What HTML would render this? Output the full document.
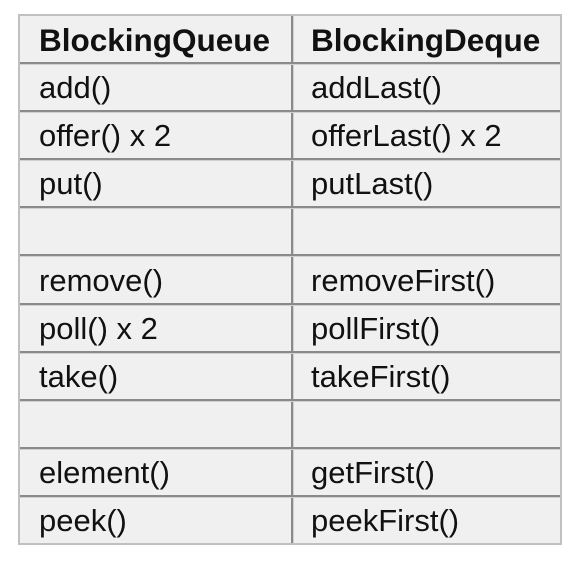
<!DOCTYPE html>
<html><head><style>
body{margin:0;background:#fff;width:580px;height:566px;position:relative;font-family:"Liberation Sans",Arial,sans-serif;}
.t{position:absolute;left:18px;top:14px;width:544px;height:531px;background:#f0f0f0;border:2px solid #c0c0c0;box-sizing:border-box;}
.h{position:absolute;left:20px;width:540px;height:2px;background:#8a8a8a;border-bottom:1px solid #d0d0d0}
.v{position:absolute;left:291px;top:16px;width:2px;height:527px;background:#8a8a8a;border-right:1px solid #d0d0d0}
.c{position:absolute;font-size:31px;color:#111;line-height:34px;white-space:nowrap}
.b{font-weight:bold;font-size:31.5px}
</style></head><body>
<div class="t"></div>
<div class="v"></div>
<div class="h" style="top:62px"></div>
<div class="h" style="top:110px"></div>
<div class="h" style="top:158px"></div>
<div class="h" style="top:206px"></div>
<div class="h" style="top:254px"></div>
<div class="h" style="top:303px"></div>
<div class="h" style="top:351px"></div>
<div class="h" style="top:399px"></div>
<div class="h" style="top:447px"></div>
<div class="h" style="top:495px"></div>

<div class="c b" style="left:39px;top:23px">BlockingQueue</div>
<div class="c b" style="left:311px;top:23px">BlockingDeque</div>
<div class="c" style="left:39px;top:71px">add()</div>
<div class="c" style="left:311px;top:71px">addLast()</div>
<div class="c" style="left:39px;top:119px">offer() x 2</div>
<div class="c" style="left:311px;top:119px">offerLast() x 2</div>
<div class="c" style="left:39px;top:167px">put()</div>
<div class="c" style="left:311px;top:167px">putLast()</div>
<div class="c" style="left:39px;top:264px">remove()</div>
<div class="c" style="left:311px;top:264px">removeFirst()</div>
<div class="c" style="left:39px;top:312px">poll() x 2</div>
<div class="c" style="left:311px;top:312px">pollFirst()</div>
<div class="c" style="left:39px;top:360px">take()</div>
<div class="c" style="left:311px;top:360px">takeFirst()</div>
<div class="c" style="left:39px;top:456px">element()</div>
<div class="c" style="left:311px;top:456px">getFirst()</div>
<div class="c" style="left:39px;top:504px">peek()</div>
<div class="c" style="left:311px;top:504px">peekFirst()</div>
</body></html>
